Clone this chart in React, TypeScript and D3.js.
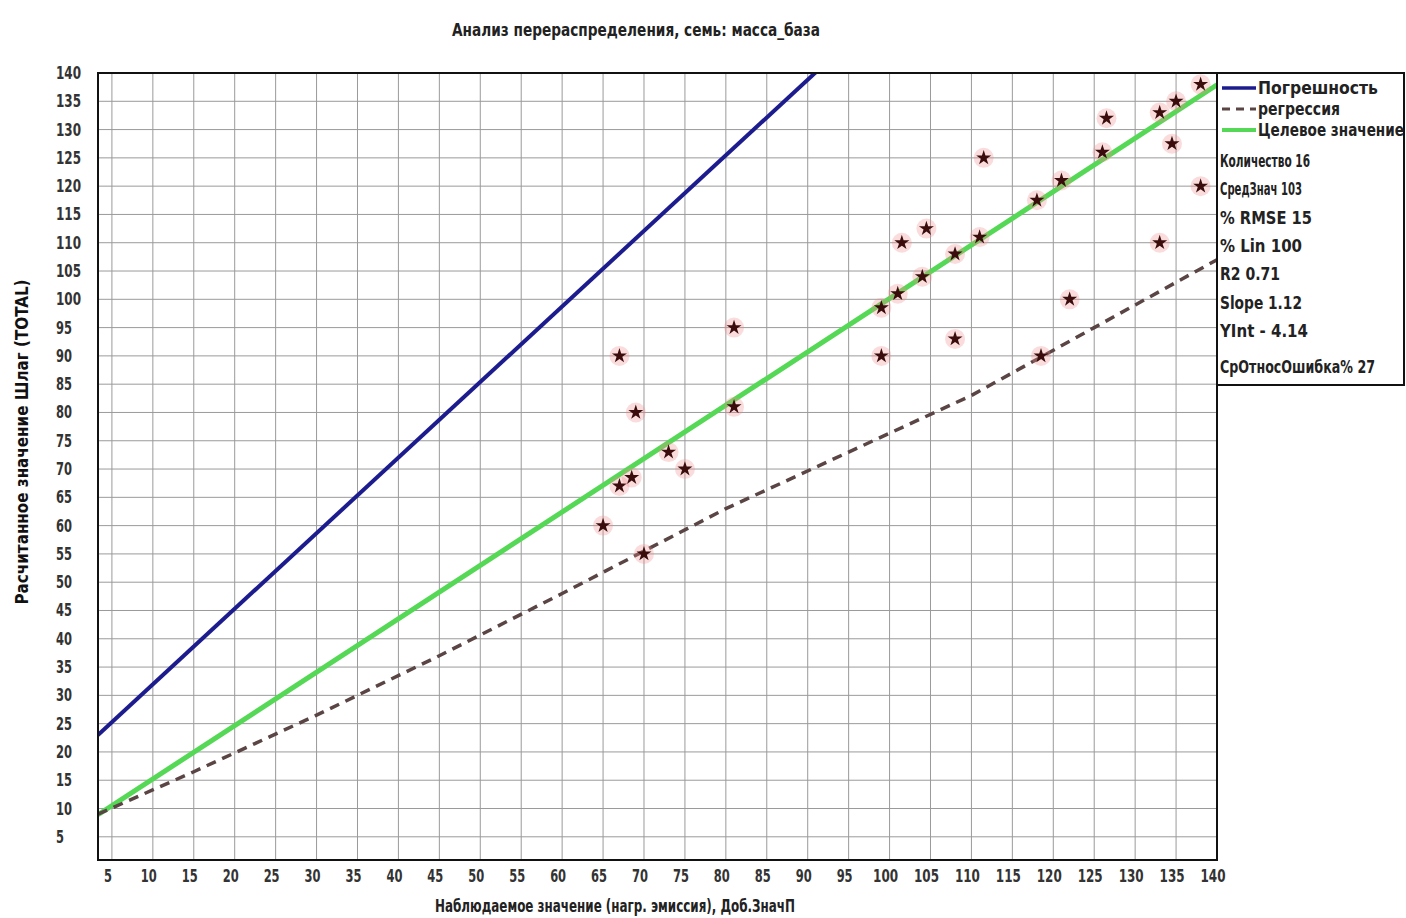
import React, { useEffect, useRef } from 'react';
import * as d3 from 'd3';

// observed vs calculated points
const obsX = [65, 67, 69, 67, 68.5, 70, 73, 75, 81, 81, 99, 99, 101, 101.5, 104, 104.5, 108, 108, 111, 111.5, 118, 118.5, 121, 122, 126, 126.5, 133, 133, 135, 134.5, 138, 138];
const calcY = [60, 90, 80, 67, 68.5, 55, 73, 70, 95, 81, 90, 98.5, 101, 110, 104, 112.5, 108, 93, 111, 125, 117.5, 90, 121, 100, 126, 132, 133, 110, 135, 127.5, 138, 120];

// lines
const errX = [3.3, 140];
const errY = [23, 205.6];
const targetX = [3.3, 140];
const targetY = [8.9, 137.9];
const regX = [3.3, 15, 30, 45, 60, 70, 80, 95, 110, 125, 140];
const regY = [9, 16.5, 26.5, 37, 48, 55.5, 63, 73, 83, 95, 107];

const ticks = d3.range(5, 141, 5);

const legendItems = ['Погрешность', 'регрессия', 'Целевое значение'];
const legendWidths = [120, 82, 146];
const stats = ['Количество 16', 'СредЗнач 103', '% RMSE 15', '% Lin 100', 'R2 0.71', 'Slope 1.12', 'YInt - 4.14'];
const statWidths = [90, 82, 92, 82, 60, 82, 88];
const lastStat = 'СрОтносОшибка% 27';

const title = 'Анализ перераспределения, семь: масса_база';
const xTitle = 'Наблюдаемое значение (нагр. эмиссия), Доб.ЗначП';
const yTitle = 'Расчитанное значение Шлаг (TOTAL)';

const FONT = "'Liberation Sans Narrow','DejaVu Sans Condensed','Arial Narrow',sans-serif";

export default function App() {
  const ref = useRef<SVGSVGElement>(null);

  useEffect(() => {
    const width = 1406;
    const height = 918;
    const left = 98, right = 1217, top = 73, bottom = 860;

    const x = d3.scaleLinear().domain([3.3, 140]).range([left, right]);
    const y = d3.scaleLinear().domain([0.9, 140]).range([bottom, top]);

    const svg = d3.select(ref.current)
      .attr('width', width)
      .attr('height', height)
      .style('font-family', FONT)
      .style('font-weight', 'bold');

    svg.selectAll('*').remove();

    svg.append('rect').attr('width', width).attr('height', height).attr('fill', '#fff');

    svg.append('defs').append('clipPath').attr('id', 'plot')
      .append('rect')
      .attr('x', left).attr('y', top)
      .attr('width', right - left).attr('height', bottom - top);

    // grid
    const grid = svg.append('g').attr('stroke', '#9a9a9a').attr('stroke-width', 1);
    grid.selectAll('line.v')
      .data(ticks)
      .join('line')
        .attr('class', 'v')
        .attr('x1', d => x(d)).attr('x2', d => x(d))
        .attr('y1', top).attr('y2', bottom);
    grid.selectAll('line.h')
      .data(ticks)
      .join('line')
        .attr('class', 'h')
        .attr('x1', left).attr('x2', right)
        .attr('y1', d => y(d)).attr('y2', d => y(d));

    // tick labels
    svg.append('g')
      .selectAll('text')
      .data(ticks)
      .join('text')
        .attr('x', d => x(d) - 4)
        .attr('y', bottom + 22)
        .attr('text-anchor', 'middle')
        .attr('font-size', 17)
        .attr('fill', '#333')
        .attr('textLength', d => (d >= 100 ? 25 : d >= 10 ? 16 : 8))
        .attr('lengthAdjust', 'spacingAndGlyphs')
        .text(d => d);
    svg.append('g')
      .selectAll('text')
      .data(ticks)
      .join('text')
        .attr('x', 56)
        .attr('y', d => y(d) + 6)
        .attr('font-size', 17)
        .attr('fill', '#333')
        .attr('textLength', d => (d >= 100 ? 25 : d >= 10 ? 16 : 8))
        .attr('lengthAdjust', 'spacingAndGlyphs')
        .text(d => d);

    const plot = svg.append('g').attr('clip-path', 'url(#plot)');
    const line = d3.line<[number, number]>().x(d => x(d[0])).y(d => y(d[1]));

    plot.append('path')
      .attr('d', line(errX.map((v, i) => [v, errY[i]])))
      .attr('fill', 'none')
      .attr('stroke', '#1c1c8e')
      .attr('stroke-width', 4);

    plot.append('path')
      .attr('d', line(targetX.map((v, i) => [v, targetY[i]])))
      .attr('fill', 'none')
      .attr('stroke', '#55d855')
      .attr('stroke-width', 5);

    plot.append('path')
      .attr('d', line(regX.map((v, i) => [v, regY[i]])))
      .attr('fill', 'none')
      .attr('stroke', '#5a4444')
      .attr('stroke-width', 3.5)
      .attr('stroke-dasharray', '10,7');

    // points
    const pts = plot.append('g')
      .selectAll('g')
      .data(obsX.map((v, i) => [v, calcY[i]]))
      .join('g')
        .attr('transform', d => `translate(${x(d[0])},${y(d[1])})`);
    pts.append('circle')
      .attr('r', 10)
      .attr('fill', '#f08a8a')
      .attr('opacity', 0.3);
    pts.append('path')
      .attr('d', d3.symbol(d3.symbolStar, 70)())
      .attr('fill', '#3a0c0c');

    // frame
    svg.append('rect')
      .attr('x', left).attr('y', top)
      .attr('width', right - left).attr('height', bottom - top)
      .attr('fill', 'none')
      .attr('stroke', '#111')
      .attr('stroke-width', 2);

    // legend
    const lg = svg.append('g');
    lg.append('rect')
      .attr('x', right).attr('y', top)
      .attr('width', 1404 - right).attr('height', 385 - top)
      .attr('fill', '#fff')
      .attr('stroke', '#111')
      .attr('stroke-width', 2);
    const styles = [
      { stroke: '#1c1c8e', dash: null, w: 3.5 },
      { stroke: '#5a4444', dash: '8,6', w: 3 },
      { stroke: '#55d855', dash: null, w: 4 },
    ];
    legendItems.forEach((t, i) => {
      const yy = 88 + i * 21;
      lg.append('line')
        .attr('x1', 1222).attr('x2', 1256)
        .attr('y1', yy).attr('y2', yy)
        .attr('stroke', styles[i].stroke)
        .attr('stroke-width', styles[i].w)
        .attr('stroke-dasharray', styles[i].dash);
      lg.append('text')
        .attr('x', 1258).attr('y', yy + 6)
        .attr('font-size', 17)
        .attr('fill', '#222')
        .attr('textLength', legendWidths[i])
        .attr('lengthAdjust', 'spacingAndGlyphs')
        .text(t);
    });
    stats.forEach((t, i) => {
      lg.append('text')
        .attr('x', 1220).attr('y', 167 + i * 28.3)
        .attr('font-size', 18)
        .attr('fill', '#222')
        .attr('textLength', statWidths[i])
        .attr('lengthAdjust', 'spacingAndGlyphs')
        .text(t);
    });
    lg.append('text')
      .attr('x', 1220).attr('y', 373)
      .attr('font-size', 18)
      .attr('fill', '#222')
      .attr('textLength', 155)
      .attr('lengthAdjust', 'spacingAndGlyphs')
      .text(lastStat);

    // titles
    svg.append('text')
      .attr('x', 636).attr('y', 36)
      .attr('text-anchor', 'middle')
      .attr('font-size', 18)
      .attr('fill', '#222')
      .attr('textLength', 368)
      .attr('lengthAdjust', 'spacingAndGlyphs')
      .text(title);
    svg.append('text')
      .attr('x', 615).attr('y', 912)
      .attr('text-anchor', 'middle')
      .attr('font-size', 17)
      .attr('fill', '#222')
      .attr('textLength', 360)
      .attr('lengthAdjust', 'spacingAndGlyphs')
      .text(xTitle);
    svg.append('text')
      .attr('transform', 'translate(28,442) rotate(-90)')
      .attr('text-anchor', 'middle')
      .attr('font-size', 18)
      .attr('fill', '#111')
      .attr('textLength', 325)
      .attr('lengthAdjust', 'spacingAndGlyphs')
      .text(yTitle);
  }, []);

  return <svg ref={ref} style={{ position: 'absolute', left: 0, top: 0 }} />;
}
